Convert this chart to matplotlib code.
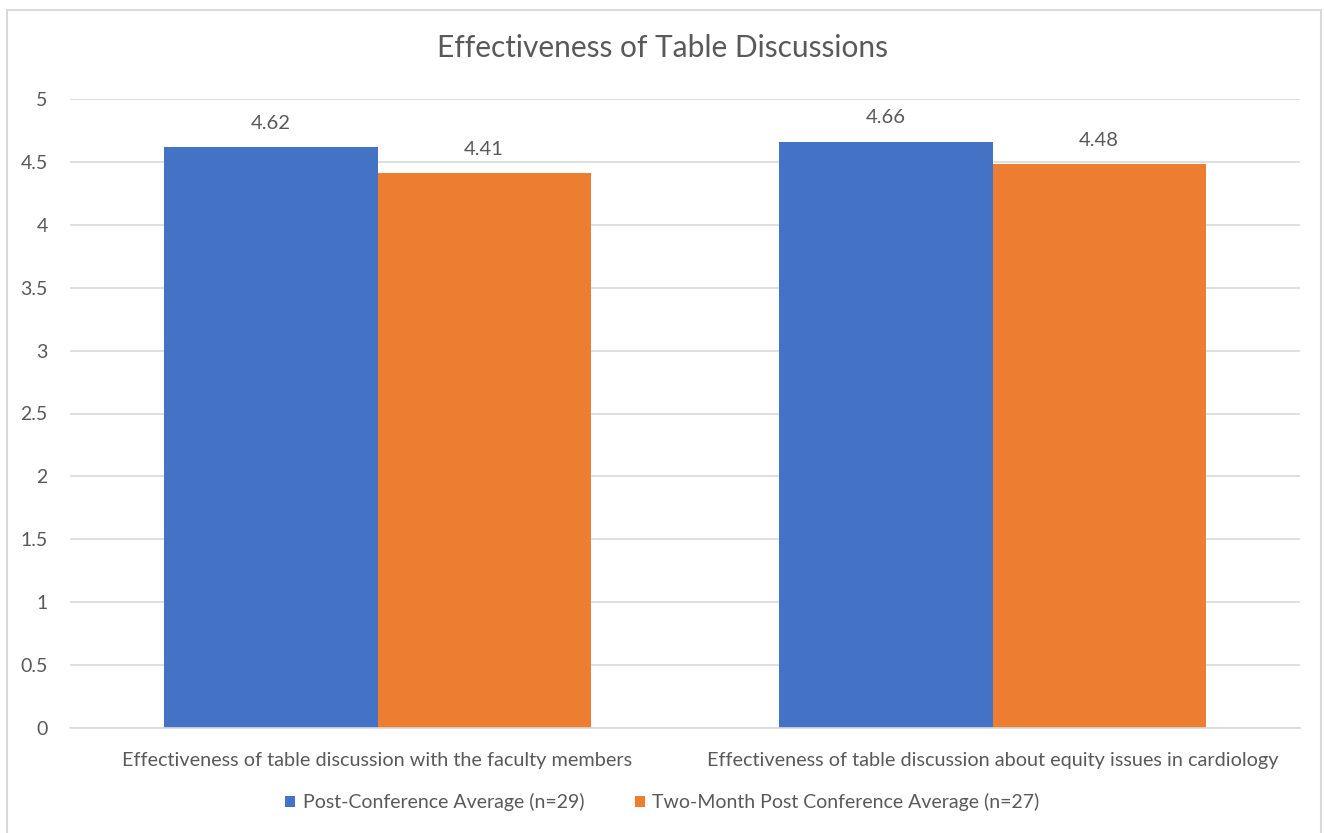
import matplotlib.pyplot as plt
from matplotlib.patches import Rectangle
import numpy as np

categories = ["Effectiveness of table discussion with the faculty members",
              "Effectiveness of table discussion about equity issues in cardiology"]
series_names = ["Post-Conference Average (n=29)",
                "Two-Month Post Conference Average (n=27)"]
post_avg = [4.62, 4.66]
two_month_avg = [4.41, 4.48]
yticks = [0, 0.5, 1, 1.5, 2, 2.5, 3, 3.5, 4, 4.5, 5]

blue = '#4472C4'
orange = '#ED7D31'
text_grey = '#595959'

plt.rcParams['font.family'] = ['Lato', 'DejaVu Sans']

fig = plt.figure(figsize=(13.25, 8.33), dpi=100)
ax = fig.add_axes([70 / 1325, 105 / 833, 1230 / 1325, 629 / 833])

# chart frame
fig.patches.append(Rectangle((7 / 1325, -0.01), 1314 / 1325, (823 / 833) + 0.01,
                             transform=fig.transFigure, fill=False,
                             edgecolor='#D9D9D9', linewidth=1.5))

x = np.arange(len(categories))
w = 0.347
b1 = ax.bar(x - w / 2, post_avg, w, color=blue, label=series_names[0], zorder=2)
b2 = ax.bar(x + w / 2, two_month_avg, w, color=orange, label=series_names[1], zorder=2)

for bars, vals in ((b1, post_avg), (b2, two_month_avg)):
    for rect, v in zip(bars, vals):
        ax.annotate(f"{v:.2f}", (rect.get_x() + rect.get_width() / 2, v),
                    xytext=(0, 11), textcoords='offset points', ha='center',
                    va='bottom', fontsize=14.5, color=text_grey)

ax.set_xlim(-0.5, 1.5)
ax.set_ylim(0, 5)
ax.set_yticks(yticks)
ax.set_yticklabels([f"{t:g}" for t in yticks])
ax.set_xticks(x)
ax.set_xticklabels(categories)
ax.grid(axis='y', color='#D9D9D9', linewidth=1.2, zorder=0)
for s in ['top', 'right', 'left']:
    ax.spines[s].set_visible(False)
ax.spines['bottom'].set_color('#D9D9D9')
ax.spines['bottom'].set_linewidth(1.2)
ax.tick_params(axis='both', length=0, colors=text_grey, labelsize=14)
ax.tick_params(axis='x', labelsize=14.3)
ax.tick_params(axis='y', pad=16)
ax.tick_params(axis='x', pad=17)

fig.text(0.5, 1 - 48 / 833, "Effectiveness of Table Discussions", ha='center',
         va='center', fontsize=21.5, color=text_grey)

leg = fig.legend(handles=[b1, b2], loc='center', bbox_to_anchor=(0.5, 1 - 802 / 833),
                 ncol=2, frameon=False, fontsize=14, handlelength=0.5,
                 handleheight=0.5, handletextpad=0.4, columnspacing=2.6)
for t in leg.get_texts():
    t.set_color(text_grey)

fig.savefig('out.png', dpi=100)
